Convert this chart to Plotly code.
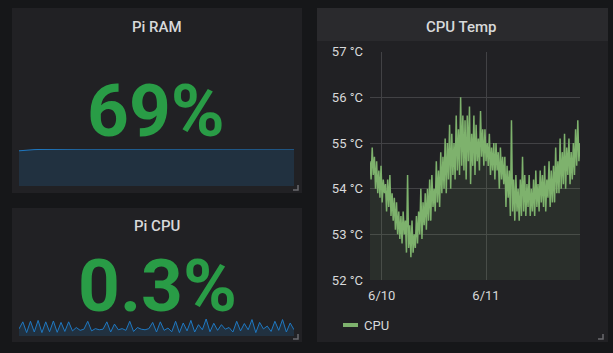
import pandas as pd
import plotly.graph_objects as go

W, H = 613, 353

# ---------------- data ----------------
ram_title = "Pi RAM"
ram_value_text = "69%"
ram_values = [65.8, 66.8, 67.5, 68.0, 68.3, 68.5, 68.6, 68.7, 68.8, 68.8, 68.9, 68.9,
              68.8, 68.9, 69.0, 68.9, 68.9, 68.8, 68.9, 68.9, 69.0, 69.0, 68.9, 68.9,
              68.8, 68.8, 68.9, 68.9, 69.0, 68.9, 68.9, 69.0, 69.0, 69.1, 69.0, 68.9,
              69.0, 69.0, 69.1, 69.0, 69.0, 68.9, 68.9, 69.0, 69.0, 68.9, 68.9, 69.0,
              69.1, 69.0, 69.0, 69.1, 69.1, 69.2, 69.1, 69.2]

cpu_title = "Pi CPU"
cpu_value_text = "0.3%"
cpu_values = [0.25, 0.50, 0.12, 0.52, 0.14, 0.55, 0.12, 0.50, 0.15, 0.53, 0.13, 0.48,
              0.16, 0.50, 0.18, 0.30, 0.20, 0.24, 0.52, 0.18, 0.26, 0.22, 0.24, 0.50,
              0.14, 0.42, 0.22, 0.26, 0.20, 0.52, 0.16, 0.30, 0.24, 0.22, 0.26, 0.48,
              0.14, 0.50, 0.20, 0.28, 0.15, 0.52, 0.12, 0.46, 0.18, 0.55, 0.14, 0.40,
              0.22, 0.60, 0.15, 0.45, 0.20, 0.40, 0.24, 0.30, 0.14, 0.52, 0.18, 0.44,
              0.22, 0.58, 0.12, 0.48, 0.25, 0.35, 0.16, 0.52, 0.20, 0.58, 0.14, 0.46,
              0.22]

temp_title = "CPU Temp"
temp_series_name = "CPU"
temp_start = "2018-06-09 21:18"
temp_end = "2018-06-11 21:38"
temp_values = [
    54.6, 54.2, 54.9, 54.3, 54.7,
    54.0, 54.6, 53.9, 54.4,
    53.8, 54.5, 53.7, 54.2, 53.9,
    54.1, 53.5, 54.2, 53.6,
    54.3, 53.4, 53.9, 53.3, 53.8,
    53.1, 53.7, 53.0, 53.5,
    52.9, 53.4, 52.8, 53.5, 53.0,
    53.3, 52.6, 54.3, 52.7,
    53.2, 52.5, 53.3, 52.6, 53.0,
    52.7, 53.4, 52.8, 53.5,
    53.0, 54.0, 52.9, 53.7, 53.2,
    53.9, 53.1, 54.0, 53.3,
    54.2, 53.3, 54.3, 53.6, 54.0,
    53.5, 54.6, 53.7, 54.4,
    53.6, 54.8, 53.9, 54.7, 54.0,
    55.1, 53.9, 55.0, 54.2,
    55.4, 54.0, 55.2, 54.3, 55.0,
    54.2, 55.6, 54.4, 55.3,
    54.3, 56.0, 54.5, 55.6, 54.4,
    55.5, 54.2, 55.6, 54.6,
    55.8, 54.1, 55.2, 54.5, 55.6,
    54.3, 55.4, 54.6, 55.1,
    54.4, 55.7, 54.7, 55.3, 54.5,
    55.3, 54.6, 55.0, 54.5,
    55.2, 54.3, 54.9, 54.4, 55.0,
    54.2, 55.0, 54.4, 54.8,
    54.0, 54.9, 54.2, 54.7, 54.1,
    54.7, 53.6, 54.5, 53.8,
    54.4, 53.4, 55.5, 53.5, 54.2,
    53.3, 54.3, 53.5, 54.0,
    53.3, 54.2, 53.4, 54.7, 53.5,
    54.3, 53.4, 54.1, 53.6,
    54.3, 53.4, 54.0, 53.5, 54.2,
    53.4, 54.4, 53.6, 54.1,
    53.5, 54.4, 53.7, 54.3, 53.6,
    54.5, 53.5, 54.2, 53.8,
    54.6, 53.6, 54.4, 53.7, 54.5,
    53.7, 54.9, 53.9, 54.6,
    53.9, 55.1, 54.0, 54.8, 54.1,
    55.2, 54.0, 54.9, 54.3,
    55.1, 54.1, 54.8, 54.2, 55.0,
    54.3, 55.3, 54.5, 55.5,
    54.6, 55.0,
]
temp_y_range = [52, 57]

# ---------------- helpers ----------------
def px(x):
    return x / W

def py(y):
    return 1 - y / H

PAGE_BG = "#161719"
PANEL_BG = "#212124"
HEADER_BG = "#2a2a2d"
TEXT = "#d8d9da"
GREEN = "#299c46"
BLUE = "#1f78c1"
TEMP_GREEN = "#7eb26d"
GRID = "#424245"
FONT = "Roboto"

ram_t = pd.date_range(temp_start, temp_end, periods=len(ram_values))
cpu_t = pd.date_range(temp_start, temp_end, periods=len(cpu_values))
temp_t = pd.date_range(temp_start, temp_end, periods=len(temp_values))

fig = go.Figure()

fig.add_trace(go.Scatter(x=ram_t, y=ram_values, mode="lines", fill="tozeroy",
                         line=dict(color=BLUE, width=1),
                         fillcolor="rgba(31,120,193,0.18)",
                         xaxis="x", yaxis="y", showlegend=False, hoverinfo="skip"))
fig.add_trace(go.Scatter(x=cpu_t, y=cpu_values, mode="lines", fill="tozeroy",
                         line=dict(color=BLUE, width=1),
                         fillcolor="rgba(31,120,193,0.18)",
                         xaxis="x2", yaxis="y2", showlegend=False, hoverinfo="skip"))
fig.add_trace(go.Scatter(x=temp_t, y=temp_values, mode="lines", fill="tozeroy",
                         name=temp_series_name,
                         line=dict(color=TEMP_GREEN, width=1.5),
                         fillcolor="rgba(126,178,109,0.10)",
                         xaxis="x3", yaxis="y3", showlegend=False, hoverinfo="skip"))

shapes = []
# panels
for (x0, y0, x1, y1) in [(12, 8, 302, 193), (12, 208, 302, 342), (317, 8, 608, 342)]:
    shapes.append(dict(type="rect", xref="paper", yref="paper", layer="below",
                       x0=px(x0), x1=px(x1), y0=py(y1), y1=py(y0),
                       fillcolor=PANEL_BG, line=dict(width=0)))
shapes.append(dict(type="rect", xref="paper", yref="paper", layer="below",
                   x0=px(317), x1=px(608), y0=py(41), y1=py(8),
                   fillcolor=HEADER_BG, line=dict(width=0)))
# resize corners
for (cx, cy) in [(298, 190), (298, 339), (603, 339)]:
    shapes.append(dict(type="path", xref="paper", yref="paper",
                       path=f"M {px(cx-5)},{py(cy)} L {px(cx)},{py(cy)} L {px(cx)},{py(cy-5)}",
                       line=dict(color="#6a6a6d", width=1.5)))
# legend swatch
shapes.append(dict(type="line", xref="paper", yref="paper",
                   x0=px(343), x1=px(358), y0=py(325), y1=py(325),
                   line=dict(color=TEMP_GREEN, width=4)))

annotations = [
    dict(text=ram_title, x=px(157), y=py(26.5), xref="paper", yref="paper",
         showarrow=False, font=dict(family=FONT, size=15, color=TEXT, weight=500),
         xanchor="center", yanchor="middle"),
    dict(text=cpu_title, x=px(157), y=py(226.5), xref="paper", yref="paper",
         showarrow=False, font=dict(family=FONT, size=15, color=TEXT, weight=500),
         xanchor="center", yanchor="middle"),
    dict(text=temp_title, x=px(461), y=py(26.5), xref="paper", yref="paper",
         showarrow=False, font=dict(family=FONT, size=15, color=TEXT, weight=500),
         xanchor="center", yanchor="middle"),
    dict(text=ram_value_text, x=px(156.5), y=py(110.5), xref="paper", yref="paper",
         showarrow=False, font=dict(family=FONT, size=73, color=GREEN, weight="bold"),
         xanchor="center", yanchor="middle"),
    dict(text=cpu_value_text, x=px(157), y=py(285.5), xref="paper", yref="paper",
         showarrow=False, font=dict(family=FONT, size=73, color=GREEN, weight="bold"),
         xanchor="center", yanchor="middle"),
    dict(text=temp_series_name, x=px(362), y=py(325), xref="paper", yref="paper",
         showarrow=False, font=dict(family=FONT, size=13, color=TEXT),
         xanchor="left", yanchor="middle"),
]

fig.update_layout(
    template="none",
    width=W, height=H, margin=dict(l=0, r=0, t=0, b=0, pad=0, autoexpand=False),
    paper_bgcolor=PAGE_BG, plot_bgcolor="rgba(0,0,0,0)",
    font=dict(family=FONT, color=TEXT, size=13),
    shapes=shapes, annotations=annotations, showlegend=False,
    xaxis=dict(domain=[px(19), px(294)], anchor="y", visible=False, fixedrange=True,
               automargin=False),
    yaxis=dict(domain=[py(186), py(149)], anchor="x", visible=False,
               range=[0, max(ram_values)], fixedrange=True, automargin=False),
    xaxis2=dict(domain=[px(19), px(294)], anchor="y2", visible=False, fixedrange=True,
                automargin=False),
    yaxis2=dict(domain=[py(336), py(319)], anchor="x2", visible=False,
                range=[0, max(cpu_values)], fixedrange=True, automargin=False),
    xaxis3=dict(domain=[px(370), px(580)], anchor="y3", type="date",
                tickformat="%-m/%-d", dtick=86400000, tick0="2018-06-10",
                showgrid=True, gridcolor=GRID, gridwidth=1, zeroline=False,
                showline=False, ticks="", ticklabelstandoff=6, automargin=False,
                tickfont=dict(family=FONT, size=13, color=TEXT)),
    yaxis3=dict(domain=[py(280), py(51.7)], anchor="x3", range=temp_y_range,
                dtick=1, ticksuffix=" °C", showgrid=True, gridcolor=GRID,
                zeroline=False, showline=False, ticks="", ticklabelstandoff=6,
                automargin=False, tickfont=dict(family=FONT, size=13, color=TEXT)),
)

fig.write_html("out.html", config={"displayModeBar": False, "staticPlot": True})
